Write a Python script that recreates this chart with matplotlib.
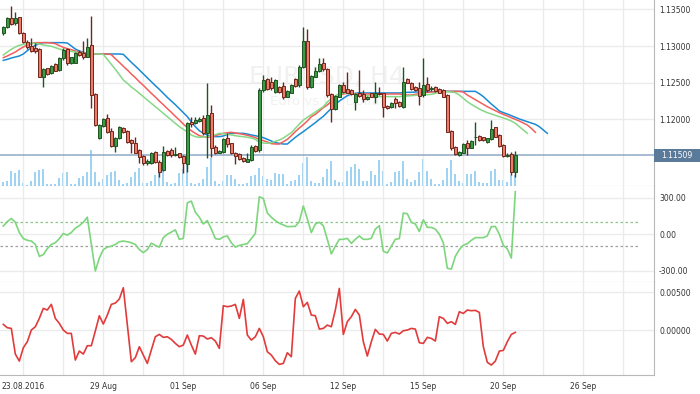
import numpy as np
import matplotlib.pyplot as plt
from matplotlib.patches import Rectangle

# EURUSD H4 candles
opens = [
    1.13173, 1.13255, 1.13378, 1.13309, 1.13391, 1.13173, 1.13059, 1.13005, 1.12968, 1.12955,
    1.12582, 1.12695, 1.12627, 1.12750, 1.12673, 1.12832, 1.12955, 1.12764, 1.12773, 1.12923,
    1.12900, 1.12855, 1.13014, 1.12341, 1.11740, 1.11908, 1.12013, 1.11840, 1.11640, 1.11740,
    1.11876, 1.11844, 1.11717, 1.11681, 1.11580, 1.11503, 1.11399, 1.11399, 1.11558, 1.11422,
    1.11308, 1.11571, 1.11580, 1.11512, 1.11535, 1.11499, 1.11385, 1.11967, 1.11954, 1.11981,
    1.12013, 1.11808, 1.12081, 1.11626, 1.11544, 1.11558, 1.11740, 1.11672, 1.11544, 1.11521,
    1.11467, 1.11422, 1.11444, 1.11635, 1.11580, 1.12400, 1.12545, 1.12513, 1.12377, 1.12436,
    1.12454, 1.12309, 1.12363, 1.12545, 1.12468, 1.12718, 1.13068, 1.12436, 1.12582, 1.12663,
    1.12773, 1.12682, 1.12345, 1.12136, 1.12309, 1.12468, 1.12409, 1.12400, 1.12240, 1.12354,
    1.12345, 1.12272, 1.12354, 1.12300, 1.12354, 1.12354, 1.12181, 1.12163, 1.12272, 1.12240,
    1.12172, 1.12545, 1.12500, 1.12436, 1.12422, 1.12331, 1.12477, 1.12409, 1.12436, 1.12409,
    1.12400, 1.12331, 1.11844, 1.11626, 1.11512, 1.11544, 1.11672, 1.11612, 1.11753, 1.11772,
    1.11753, 1.11694, 1.11726, 1.11890, 1.11785, 1.11649, 1.11499, 1.11526, 1.11285]
highs = [
    1.13273, 1.13391, 1.13546, 1.13469, 1.13400, 1.13187, 1.13082, 1.13105, 1.13046, 1.12968,
    1.12695, 1.12704, 1.12741, 1.12764, 1.12845, 1.12968, 1.12968, 1.12855, 1.12923, 1.12945,
    1.13073, 1.13105, 1.13410, 1.12354, 1.11935, 1.12013, 1.12067, 1.11876, 1.11763, 1.11908,
    1.11899, 1.11854, 1.11726, 1.11763, 1.11590, 1.11512, 1.11453, 1.11558, 1.11571, 1.11444,
    1.11635, 1.11580, 1.11603, 1.11626, 1.11544, 1.11512, 1.11967, 1.12035, 1.12035, 1.12035,
    1.12058, 1.12500, 1.12195, 1.11649, 1.11580, 1.11740, 1.11808, 1.11681, 1.11558, 1.11535,
    1.11480, 1.11544, 1.11649, 1.11649, 1.12422, 1.12604, 1.12559, 1.12582, 1.12545, 1.12454,
    1.12513, 1.12400, 1.12481, 1.12559, 1.12741, 1.13264, 1.13228, 1.12604, 1.12718, 1.12832,
    1.12832, 1.12695, 1.12354, 1.12331, 1.12481, 1.12513, 1.12650, 1.12409, 1.12363, 1.12673,
    1.12400, 1.12318, 1.12363, 1.12513, 1.12445, 1.12363, 1.12195, 1.12240, 1.12309, 1.12254,
    1.12718, 1.12559, 1.12513, 1.12454, 1.12513, 1.12832, 1.12572, 1.12454, 1.12454, 1.12422,
    1.12409, 1.12345, 1.11854, 1.11635, 1.11571, 1.11672, 1.11717, 1.11717, 1.11967, 1.11785,
    1.11763, 1.11749, 1.11990, 1.11899, 1.11799, 1.11662, 1.11535, 1.11558, 1.11571]
lows = [
    1.13155, 1.13241, 1.13287, 1.13287, 1.13164, 1.13037, 1.12955, 1.12923, 1.12909, 1.12572,
    1.12445, 1.12604, 1.12618, 1.12654, 1.12654, 1.12809, 1.12741, 1.12754, 1.12764, 1.12868,
    1.12827, 1.12845, 1.12149, 1.11908, 1.11726, 1.11890, 1.11808, 1.11617, 1.11558, 1.11726,
    1.11817, 1.11672, 1.11544, 1.11535, 1.11399, 1.11376, 1.11376, 1.11390, 1.11399, 1.11217,
    1.11298, 1.11499, 1.11490, 1.11499, 1.11467, 1.11262, 1.11285, 1.11899, 1.11935, 1.11967,
    1.11785, 1.11467, 1.11490, 1.11526, 1.11535, 1.11544, 1.11626, 1.11526, 1.11390, 1.11444,
    1.11422, 1.11412, 1.11435, 1.11558, 1.11558, 1.12377, 1.12400, 1.12400, 1.12363, 1.12363,
    1.12272, 1.12300, 1.12354, 1.12436, 1.12445, 1.12695, 1.12409, 1.12422, 1.12572, 1.12650,
    1.12663, 1.12309, 1.11967, 1.12127, 1.12300, 1.12363, 1.12354, 1.12331, 1.12127, 1.12309,
    1.12240, 1.12263, 1.12300, 1.12218, 1.12331, 1.12035, 1.12136, 1.12149, 1.12149, 1.12172,
    1.12149, 1.12491, 1.12400, 1.12390, 1.12195, 1.12309, 1.12377, 1.12390, 1.12377, 1.12354,
    1.12300, 1.11822, 1.11580, 1.11512, 1.11499, 1.11535, 1.11512, 1.11603, 1.11649, 1.11703,
    1.11703, 1.11681, 1.11717, 1.11753, 1.11626, 1.11490, 1.11490, 1.11239, 1.11217]
closes = [
    1.13255, 1.13378, 1.13300, 1.13378, 1.13173, 1.13059, 1.12982, 1.12936, 1.12936, 1.12582,
    1.12682, 1.12618, 1.12727, 1.12663, 1.12832, 1.12945, 1.12764, 1.12845, 1.12909, 1.12877,
    1.12845, 1.12991, 1.12331, 1.11922, 1.11922, 1.12004, 1.11831, 1.11640, 1.11740, 1.11890,
    1.11831, 1.11694, 1.11672, 1.11544, 1.11490, 1.11399, 1.11431, 1.11544, 1.11412, 1.11285,
    1.11558, 1.11512, 1.11512, 1.11526, 1.11480, 1.11399, 1.11954, 1.11935, 1.11990, 1.12004,
    1.11808, 1.12058, 1.11603, 1.11535, 1.11567, 1.11726, 1.11662, 1.11535, 1.11503, 1.11453,
    1.11435, 1.11453, 1.11626, 1.11571, 1.12400, 1.12536, 1.12409, 1.12422, 1.12536, 1.12377,
    1.12309, 1.12390, 1.12468, 1.12454, 1.12718, 1.13068, 1.12436, 1.12591, 1.12663, 1.12754,
    1.12682, 1.12331, 1.12136, 1.12318, 1.12468, 1.12377, 1.12363, 1.12345, 1.12341, 1.12322,
    1.12272, 1.12309, 1.12309, 1.12354, 1.12345, 1.12172, 1.12149, 1.12227, 1.12218, 1.12181,
    1.12513, 1.12500, 1.12409, 1.12400, 1.12318, 1.12463, 1.12400, 1.12431, 1.12390, 1.12363,
    1.12309, 1.11831, 1.11603, 1.11526, 1.11558, 1.11662, 1.11612, 1.11703, 1.11763, 1.11717,
    1.11717, 1.11740, 1.11863, 1.11763, 1.11635, 1.11499, 1.11512, 1.11285, 1.11509]
volumes = [
    12, 14, 44, 40, 49, 10, 4, 14, 42, 49,
    50, 6, 5, 5, 25, 40, 41, 6, 6, 25,
    30, 42, 109, 42, 12, 22, 32, 42, 46, 17,
    6, 10, 27, 42, 54, 10, 10, 14, 32, 42,
    44, 12, 7, 10, 38, 50, 62, 10, 7, 10,
    22, 57, 84, 14, 6, 14, 32, 32, 22, 7,
    6, 10, 29, 34, 54, 30, 20, 17, 40, 37,
    37, 7, 14, 17, 32, 70, 88, 14, 10, 9,
    27, 52, 74, 17, 12, 12, 44, 57, 67, 52,
    14, 14, 44, 34, 78, 44, 7, 12, 42, 46,
    76, 22, 12, 17, 42, 82, 44, 22, 7, 7,
    17, 54, 78, 37, 14, 10, 37, 37, 44, 12,
    10, 10, 44, 52, 17, 19, 12, 34, 34]

# alligator lines (already shifted forward)
jaw = [
    1.12804, 1.12818, 1.12836, 1.12850, 1.12864, 1.12891, 1.12936, 1.12977, 1.13009, 1.13032,
    1.13046, 1.13046, 1.13046, 1.13046, 1.13046, 1.13046, 1.13041, 1.13000, 1.12959, 1.12932,
    1.12914, 1.12900, 1.12891, 1.12891, 1.12891, 1.12891, 1.12891, 1.12891, 1.12891, 1.12891,
    1.12886, 1.12832, 1.12777, 1.12727, 1.12673, 1.12618, 1.12563, 1.12509, 1.12459, 1.12409,
    1.12354, 1.12299, 1.12249, 1.12199, 1.12145, 1.12090, 1.12036, 1.11963, 1.11899, 1.11844,
    1.11808, 1.11785, 1.11772, 1.11763, 1.11763, 1.11772, 1.11794, 1.11808, 1.11808, 1.11808,
    1.11808, 1.11799, 1.11785, 1.11776, 1.11763, 1.11749, 1.11726, 1.11703, 1.11681, 1.11672,
    1.11662, 1.11662, 1.11708, 1.11753, 1.11794, 1.11831, 1.11872, 1.11913, 1.11954, 1.11999,
    1.12040, 1.12095, 1.12149, 1.12204, 1.12249, 1.12286, 1.12322, 1.12345, 1.12354, 1.12363,
    1.12359, 1.12359, 1.12359, 1.12359, 1.12359, 1.12359, 1.12359, 1.12359, 1.12359, 1.12359,
    1.12363, 1.12368, 1.12368, 1.12372, 1.12372, 1.12372, 1.12377, 1.12377, 1.12377, 1.12377,
    1.12377, 1.12381, 1.12381, 1.12381, 1.12381, 1.12381, 1.12381, 1.12381, 1.12381, 1.12349,
    1.12309, 1.12258, 1.12208, 1.12163, 1.12113, 1.12090, 1.12072, 1.12049, 1.12026, 1.12004,
    1.11985, 1.11967, 1.11949, 1.11931, 1.11899, 1.11854, 1.11808]
teeth = [
    1.12841, 1.12864, 1.12891, 1.12918, 1.12955, 1.12986, 1.13014, 1.13032, 1.13046, 1.13046,
    1.13046, 1.13046, 1.13041, 1.13032, 1.13005, 1.12982, 1.12964, 1.12950, 1.12932, 1.12918,
    1.12909, 1.12896, 1.12891, 1.12891, 1.12891, 1.12891, 1.12891, 1.12882, 1.12827, 1.12777,
    1.12723, 1.12673, 1.12618, 1.12568, 1.12513, 1.12463, 1.12409, 1.12354, 1.12304, 1.12249,
    1.12199, 1.12145, 1.12095, 1.12040, 1.11990, 1.11935, 1.11885, 1.11844, 1.11808, 1.11776,
    1.11763, 1.11753, 1.11758, 1.11776, 1.11794, 1.11808, 1.11817, 1.11822, 1.11813, 1.11803,
    1.11794, 1.11781, 1.11767, 1.11749, 1.11726, 1.11708, 1.11690, 1.11667, 1.11662, 1.11662,
    1.11694, 1.11726, 1.11776, 1.11831, 1.11881, 1.11926, 1.11976, 1.12036, 1.12067, 1.12113,
    1.12158, 1.12195, 1.12245, 1.12290, 1.12322, 1.12345, 1.12354, 1.12349, 1.12345, 1.12345,
    1.12345, 1.12345, 1.12345, 1.12345, 1.12345, 1.12345, 1.12345, 1.12345, 1.12345, 1.12345,
    1.12336, 1.12331, 1.12331, 1.12340, 1.12349, 1.12359, 1.12368, 1.12372, 1.12377, 1.12377,
    1.12381, 1.12381, 1.12381, 1.12381, 1.12381, 1.12372, 1.12331, 1.12299, 1.12268, 1.12236,
    1.12204, 1.12172, 1.12145, 1.12117, 1.12090, 1.12067, 1.12045, 1.12022, 1.11999, 1.11976,
    1.11949, 1.11922, 1.11876, 1.11822]
lips = [
    1.12877, 1.12918, 1.12955, 1.12986, 1.13009, 1.13023, 1.13032, 1.13037, 1.13037, 1.13027,
    1.13014, 1.13005, 1.12996, 1.12977, 1.12959, 1.12945, 1.12936, 1.12927, 1.12918, 1.12909,
    1.12900, 1.12896, 1.12891, 1.12891, 1.12891, 1.12886, 1.12818, 1.12750, 1.12682, 1.12609,
    1.12536, 1.12491, 1.12440, 1.12400, 1.12354, 1.12309, 1.12263, 1.12218, 1.12172, 1.12127,
    1.12081, 1.12036, 1.11990, 1.11945, 1.11899, 1.11863, 1.11826, 1.11785, 1.11763, 1.11753,
    1.11758, 1.11763, 1.11772, 1.11790, 1.11808, 1.11803, 1.11794, 1.11785, 1.11776, 1.11767,
    1.11763, 1.11753, 1.11744, 1.11726, 1.11685, 1.11676, 1.11672, 1.11681, 1.11699, 1.11717,
    1.11744, 1.11781, 1.11817, 1.11876, 1.11935, 1.11990, 1.12026, 1.12063, 1.12099, 1.12136,
    1.12172, 1.12236, 1.12281, 1.12318, 1.12349, 1.12354, 1.12354, 1.12349, 1.12340, 1.12331,
    1.12327, 1.12322, 1.12318, 1.12313, 1.12309, 1.12309, 1.12309, 1.12309, 1.12309, 1.12309,
    1.12313, 1.12318, 1.12322, 1.12327, 1.12331, 1.12336, 1.12336, 1.12340, 1.12354, 1.12368,
    1.12377, 1.12377, 1.12372, 1.12363, 1.12331, 1.12286, 1.12240, 1.12204, 1.12172, 1.12140,
    1.12113, 1.12090, 1.12072, 1.12054, 1.12036, 1.12017, 1.11999, 1.11976, 1.11945, 1.11899,
    1.11854, 1.11808]

cci = [
    67, 104, 129, 98, 14, -36, -50, -56, -84, -182,
    -168, -118, -84, -70, -36, 6, -8, 14, 50, 70,
    98, 140, -84, -302, -196, -126, -106, -98, -84, -62,
    -56, -62, -70, -84, -126, -151, -126, -73, -92, -106,
    -28, 0, 17, 36, -42, -34, 258, 272, 182, 140,
    84, 112, 42, -36, -42, -22, -14, -70, -106, -92,
    -84, -78, -36, 6, 308, 294, 174, 140, 112, 90,
    76, 62, 64, 64, 104, 232, 126, 14, 84, 98,
    70, -42, -162, -98, -42, -42, -34, -75, -42, -14,
    -42, -42, -34, 42, 70, -140, -154, -98, -42, -36,
    174, 168, 98, 84, 22, 118, 56, 56, 42, 0,
    -70, -280, -286, -182, -126, -90, -78, -50, -28, -28,
    -28, -14, 62, 64, 0, -92, -120, -196, 350]

osc = [
    0.00075, 0.00031, 0.00022, -0.00319, -0.00412, -0.00235, -0.00155, 0.0, 0.00044, 0.00155,
    0.00288, 0.00266, 0.00341, 0.00155, 0.00089, 0.0, -0.00044, -0.00044, -0.00398, -0.00279,
    -0.00319, -0.00208, -0.00208, -0.00013, 0.00190, 0.00080, 0.00199, 0.00341, 0.00358, 0.00412,
    0.00562, 0.00066, -0.00420, -0.00367, -0.00221, -0.00332, -0.00443, -0.00266, -0.00089, -0.00058,
    -0.00097, -0.00089, -0.00124, -0.00177, -0.00221, -0.00199, -0.00066, -0.00199, -0.00319, -0.00075,
    -0.00080, -0.00119, -0.00102, -0.00146, -0.00243, 0.00323, 0.00310, 0.00319, 0.00341, 0.00155,
    0.00407, -0.00066, -0.00133, -0.00089, 0.00022, -0.00089, -0.00288, -0.00332, -0.00407, -0.00456,
    -0.00443, -0.00301, -0.00354, 0.00420, 0.00518, 0.00310, 0.00367, 0.00199, 0.00190, 0.00013,
    0.00022, 0.00066, 0.00044, 0.00266, 0.00553, -0.00058, 0.00111, 0.00177, 0.00274, 0.00199,
    -0.00155, -0.00345, -0.00155, 0.00009, -0.00053, -0.00058, -0.00146, -0.00044, -0.00031, -0.00053,
    -0.00009, 0.0, 0.00022, 0.00013, -0.00168, -0.00177, -0.00097, -0.00111, -0.00146, 0.00177,
    0.00155, 0.00089, 0.00111, 0.00075, 0.00243, 0.00221, 0.00266, 0.00257, 0.00261, 0.00235,
    -0.00221, -0.00429, -0.00465, -0.00412, -0.00279, -0.00270, -0.00155, -0.00058, -0.00031]

date_labels = ['23.08.2016', '29 Aug', '01 Sep', '06 Sep', '12 Sep', '15 Sep', '20 Sep', '26 Sep']
label_idx = [5, 25, 45, 65, 85, 105, 125, 145]
minor_idx = [15, 35, 55, 75, 95, 115, 135, 155]

opens, highs, lows, closes = map(np.array, (opens, highs, lows, closes))
idx = np.arange(len(closes))
last_price = closes[-1]

grid_c = '#ebebeb'
frame_c = '#b8b8b8'
text_c = '#333333'
xlim = (-0.83, 162.67)

fig = plt.figure(figsize=(7, 3.94), dpi=100)
ax1 = fig.add_axes([0, 0.5279, 0.9343, 0.4721])
ax2 = fig.add_axes([0, 0.2850, 0.9343, 0.2429])
ax3 = fig.add_axes([0, 0.0482, 0.9343, 0.2368])


def style(ax, ticks, labels, ylim):
    ax.set_xlim(*xlim)
    ax.set_ylim(*ylim)
    ax.set_xticks(label_idx)
    ax.set_xticks(minor_idx, minor=True)
    ax.set_yticks(ticks)
    ax.set_yticklabels(labels)
    ax.yaxis.tick_right()
    ax.grid(True, which='both', color=grid_c, lw=1)
    ax.set_axisbelow(True)
    ax.tick_params(which='both', length=0, labelsize=5.5, colors=text_c, pad=3.6)
    for s in ['left', 'top']:
        ax.spines[s].set_visible(False)
    for s in ['right', 'bottom']:
        ax.spines[s].set_color(frame_c)


price_ticks = [1.120, 1.125, 1.130, 1.135]
style(ax1, price_ticks, ['%.5f' % t for t in price_ticks], (1.11089, 1.13628))
style(ax2, [-300, 0, 300], ['-300.00', '0.00', '300.00'], (-390, 396))
style(ax3, [0, 0.005], ['0.00000', '0.00500'], (-0.00597, 0.00642))
ax1.tick_params(labelbottom=False)
ax2.tick_params(labelbottom=False)
ax3.set_xticklabels(date_labels)
ax3.tick_params(axis='x', pad=5)

# volume behind the price panel
axv = ax1.twinx()
axv.set_zorder(ax1.get_zorder() - 1)
ax1.patch.set_visible(False)
axv.vlines(idx, 0, volumes, color='#8dc9ef', lw=1.2)
axv.set_xlim(*xlim)
axv.set_ylim(0, 558)
axv.axis('off')
ax1.yaxis.tick_right()

# watermark
ax1.text(0.5, 0.586, 'EURUSD, H4', transform=ax1.transAxes, ha='center', va='center',
         fontsize=18, color='#f1f1f1', zorder=0)
ax1.text(0.5, 0.457, 'Euro vs US Dollar', transform=ax1.transAxes, ha='center', va='center',
         fontsize=9.5, color='#f1f1f1', zorder=0)

# alligator
ax1.plot(np.arange(len(jaw)), jaw, color='#1a8ad4', lw=1.1, zorder=2)
ax1.plot(np.arange(len(teeth)), teeth, color='#f25f5c', lw=1.1, zorder=2)
ax1.plot(np.arange(len(lips)), lips, color='#86d886', lw=1.1, zorder=2)

# candles
up = closes >= opens
wick_c = np.where(up, '#1e5322', '#70261b')
fill_c = np.where(up, '#3d9b45', '#ee7b69')
body_lo = np.minimum(opens, closes)
body_h = np.maximum(np.abs(closes - opens), 0.00002)
ax1.vlines(idx, lows, highs, colors=wick_c, lw=1, zorder=3)
ax1.bar(idx, body_h, bottom=body_lo, width=0.72, color=fill_c, edgecolor=wick_c,
        lw=0.7, zorder=4)

# current price line and tag
ax1.axhline(last_price, color='#8fa9c5', lw=1.1, zorder=2.5)
tag_h = 13 / 186 * (1.13628 - 1.11089)
ax1.add_patch(Rectangle((1.0, last_price - tag_h / 2), 46 / 654, tag_h,
                        transform=ax1.get_yaxis_transform(), fc='#5a7a9a', ec='none',
                        clip_on=False, zorder=5))
ax1.text(1.0 + 23 / 654, last_price, '%.5f' % last_price, transform=ax1.get_yaxis_transform(),
         ha='center', va='center', fontsize=5.5, color='white', clip_on=False, zorder=6)

# CCI
ax2.plot(idx, cci, color='#7dd67d', lw=1.2, zorder=3)
ax2.axhline(100, xmax=640 / 654, color='#8cc48c', lw=0.9, ls=(0, (2, 2)), zorder=2)
ax2.axhline(-100, xmax=640 / 654, color='#a0a0a0', lw=0.9, ls=(0, (2, 2)), zorder=2)

# oscillator
ax3.plot(idx, osc, color='#e23b3b', lw=1.2, zorder=3)

fig.savefig('out.png', dpi=100, facecolor='white')
